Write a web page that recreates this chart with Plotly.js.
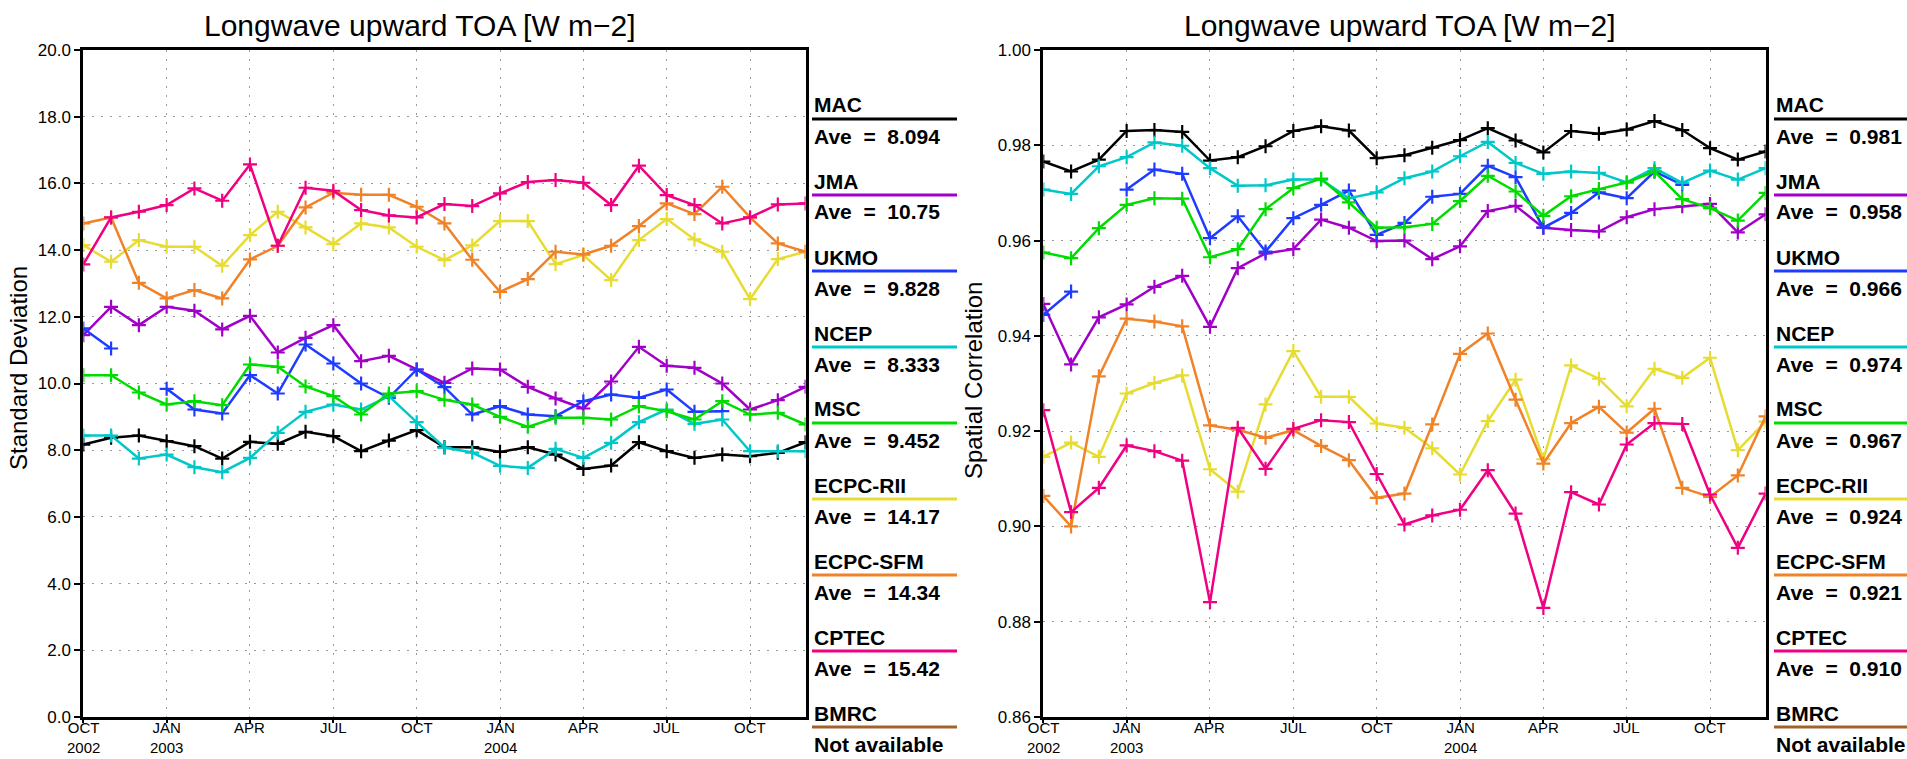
<!DOCTYPE html>
<html><head><meta charset="utf-8">
<script src="https://cdn.plot.ly/plotly-3.0.1.min.js"></script>
<style>html,body{margin:0;padding:0;background:#fff}#chart{width:1907px;height:759px}</style>
</head><body><div id="chart"></div><script>
const months = ['Oct 2002','Nov 2002','Dec 2002','Jan 2003','Feb 2003','Mar 2003','Apr 2003','May 2003','Jun 2003','Jul 2003','Aug 2003','Sep 2003','Oct 2003','Nov 2003','Dec 2003','Jan 2004','Feb 2004','Mar 2004','Apr 2004','May 2004','Jun 2004','Jul 2004','Aug 2004','Sep 2004','Oct 2004','Nov 2004','Dec 2004'];
const tickMonths = ['Oct 2002','Jan 2003','Apr 2003','Jul 2003','Oct 2003','Jan 2004','Apr 2004','Jul 2004','Oct 2004'];
const tickLabels = ['OCT<br>2002','JAN<br>2003','APR','JUL','OCT','JAN<br>2004','APR','JUL','OCT'];

const models = ['MAC','JMA','UKMO','NCEP','MSC','ECPC-RII','ECPC-SFM','CPTEC','BMRC'];
const colors = ['#000000','#a000c8','#1e3cff','#00c8c8','#00dc00','#e6dc32','#f08228','#f00082','#a0642a'];
const aveSD = ['8.094','10.75','9.828','8.333','9.452','14.17','14.34','15.42',null];
const aveCor = ['0.981','0.958','0.966','0.974','0.967','0.924','0.921','0.910',null];

// Standard deviation (left panel)
const MAC_sd   = [8.17,8.37,8.44,8.27,8.12,7.75,8.25,8.19,8.55,8.42,7.97,8.29,8.60,8.09,8.09,7.95,8.09,7.87,7.44,7.54,8.24,7.97,7.77,7.87,7.82,7.92,8.24];
const JMA_sd   = [11.45,12.3,11.75,12.3,12.18,11.62,12.03,10.93,11.37,11.75,10.67,10.83,10.42,10.02,10.45,10.42,9.9,9.55,9.25,10.06,11.1,10.53,10.47,10.0,9.22,9.5,9.9];
const UKMO_sd  = [11.65,11.05,null,9.84,9.22,9.1,10.25,9.7,11.17,10.6,10.0,9.57,10.42,9.89,9.07,9.32,9.07,9.02,9.47,9.67,9.57,9.82,9.15,9.17,null,null,null];
const NCEP_sd  = [8.44,8.44,7.75,7.87,7.49,7.34,7.77,8.52,9.15,9.37,9.22,9.62,8.84,8.08,7.93,7.53,7.47,8.04,7.77,8.22,8.84,9.22,8.79,8.92,7.97,7.97,7.97];
const MSC_sd   = [10.25,10.25,9.73,9.37,9.47,9.35,10.57,10.5,9.91,9.62,9.07,9.7,9.77,9.51,9.37,9.0,8.7,8.97,8.97,8.92,9.32,9.17,8.92,9.47,9.07,9.12,8.77];
const RII_sd   = [14.15,13.65,14.3,14.1,14.1,13.53,14.45,15.15,14.68,14.18,14.8,14.68,14.1,13.7,14.14,14.87,14.87,13.58,13.85,13.1,14.3,14.93,14.32,13.95,12.53,13.73,13.95];
const SFM_sd   = [14.8,14.98,13.02,12.55,12.8,12.55,13.72,14.13,15.28,15.72,15.66,15.66,15.3,14.8,13.71,12.75,13.13,13.95,13.87,14.13,14.72,15.4,15.08,15.9,14.98,14.2,13.95];
const CPTEC_sd = [13.57,14.98,15.15,15.35,15.85,15.48,16.57,14.13,15.87,15.78,15.2,15.04,14.98,15.38,15.32,15.7,16.04,16.1,16.02,15.35,16.53,15.65,15.35,14.8,14.98,15.37,15.4];

// Spatial correlation (right panel)
const MAC_cor   = [0.9766,0.9745,0.977,0.983,0.9832,0.9828,0.9768,0.9775,0.9798,0.983,0.984,0.9831,0.9773,0.9779,0.9795,0.9811,0.9836,0.981,0.9785,0.983,0.9824,0.9833,0.9851,0.9832,0.9794,0.977,0.9787];
const JMA_cor   = [0.9467,0.934,0.9439,0.9466,0.9503,0.9526,0.9419,0.9542,0.9573,0.9582,0.9644,0.9627,0.9599,0.96,0.9561,0.9588,0.9662,0.9673,0.9627,0.9622,0.9619,0.9649,0.9666,0.9672,0.9677,0.9617,0.9655];
const UKMO_cor  = [0.9444,0.9493,null,0.9707,0.9749,0.974,0.9605,0.9651,0.9577,0.9647,0.9675,0.9705,0.9612,0.9637,0.9692,0.9698,0.9757,0.9733,0.9627,0.9658,0.9701,0.9689,0.9745,0.9717,null,null,null];
const NCEP_cor  = [0.9707,0.9698,0.9756,0.9775,0.9806,0.9799,0.9752,0.9715,0.9716,0.9728,0.9728,0.9689,0.9701,0.9731,0.9745,0.9777,0.9807,0.9763,0.974,0.9745,0.9742,0.9722,0.9752,0.9721,0.9747,0.9728,0.9752];
const MSC_cor   = [0.9575,0.9563,0.9626,0.9675,0.9689,0.9688,0.9565,0.9582,0.9666,0.971,0.973,0.968,0.9627,0.9628,0.9635,0.9683,0.9736,0.9703,0.9652,0.9693,0.9708,0.9722,0.9745,0.9687,0.9668,0.9642,0.97];
const RII_cor   = [0.9146,0.9176,0.9146,0.9279,0.9301,0.9317,0.912,0.9073,0.9256,0.9368,0.9272,0.9272,0.9216,0.9207,0.9164,0.9109,0.9221,0.9308,0.9141,0.9338,0.931,0.9252,0.9331,0.9312,0.9354,0.916,0.922];
const SFM_cor   = [0.9064,0.90,0.9315,0.9436,0.943,0.942,0.9212,0.9203,0.9186,0.9202,0.9169,0.9139,0.906,0.9069,0.9214,0.9362,0.9405,0.9266,0.9132,0.9217,0.9251,0.9197,0.9247,0.9081,0.9062,0.9107,0.9231];
const CPTEC_cor = [0.9244,0.903,0.9081,0.917,0.9158,0.9138,0.8841,0.9207,0.9121,0.9205,0.9223,0.9219,0.911,0.9004,0.9023,0.9035,0.9118,0.9027,0.8829,0.9072,0.9046,0.9172,0.9217,0.9215,0.9067,0.8955,0.9069];

const sdSeries  = [MAC_sd,JMA_sd,UKMO_sd,NCEP_sd,MSC_sd,RII_sd,SFM_sd,CPTEC_sd];
const corSeries = [MAC_cor,JMA_cor,UKMO_cor,NCEP_cor,MSC_cor,RII_cor,SFM_cor,CPTEC_cor];

const W = 1907, H = 759;
const px = v => v / W;
const py = v => 1 - v / H;
const narrow = 'Liberation Sans Narrow, Liberation Sans, Arial, sans-serif';
const tickFont = {family: narrow, size:17, color:'#000'};
const labFont = {family:'Liberation Sans, Arial, sans-serif', size:21, color:'#000'};

function mkTraces(series, xa, ya) {
  return series.map((s, i) => ({
    type:'scatter', mode:'lines+markers', x: months, y: s, xaxis: xa, yaxis: ya,
    name: models[i], showlegend:false, connectgaps:false,
    line:{color: colors[i], width:2.5},
    marker:{symbol:'cross-thin', size:10, color: colors[i], line:{color: colors[i], width:2.2}},
    hoverinfo:'x+y+name'
  }));
}
const data = mkTraces(sdSeries,'x','y').concat(mkTraces(corSeries,'x2','y2'));

function xAxis(d0, d1, anchor) {
  return {
    domain:[px(d0), px(d1)], anchor: anchor, type:'category', range:[0, months.length-1],
    tickmode:'array', tickvals: tickMonths, showticklabels:false,
    showgrid:true, gridcolor:'#9a9a9a', griddash:'2px,7px', gridwidth:1,
    showline:true, linecolor:'#000', linewidth:3, mirror:true,
    ticks:'outside', ticklen:3, tickwidth:2, tickcolor:'#000', zeroline:false, fixedrange:true
  };
}
function yAxis(r, dt, fmt, anchor) {
  return {
    domain:[1 - 717/H, 1 - 50/H], anchor: anchor, range: r, dtick: dt, tick0: r[0], tickformat: fmt,
    tickfont: tickFont,
    showgrid:true, gridcolor:'#9a9a9a', griddash:'2px,7px', gridwidth:1,
    showline:true, linecolor:'#000', linewidth:3, mirror:true,
    ticks:'outside', ticklen:6, tickwidth:2, tickcolor:'#000', zeroline:false, fixedrange:true
  };
}

const annotations = [];
const shapes = [];
const titleText = 'Longwave upward TOA [W m\u22122]';
annotations.push({text:titleText, xref:'paper', yref:'paper', x:px(420), y:py(26), xanchor:'center', yanchor:'middle', showarrow:false,
  font:{family:'Liberation Sans, Arial, sans-serif', size:30, color:'#000'}});
annotations.push({text:titleText, xref:'paper', yref:'paper', x:px(1400), y:py(26), xanchor:'center', yanchor:'middle', showarrow:false,
  font:{family:'Liberation Sans, Arial, sans-serif', size:30, color:'#000'}});
annotations.push({text:'Standard Deviation', xref:'paper', yref:'paper', x:px(18), y:py(368), xanchor:'center', yanchor:'middle', textangle:-90, showarrow:false,
  font:{family:'Liberation Sans, Arial, sans-serif', size:24, color:'#000'}});
annotations.push({text:'Spatial Correlation', xref:'paper', yref:'paper', x:px(973), y:py(380), xanchor:'center', yanchor:'middle', textangle:-90, showarrow:false,
  font:{family:'Liberation Sans, Arial, sans-serif', size:24, color:'#000'}});

// x tick labels (month over year), placed on the category axes
['x','x2'].forEach(xr => {
  tickMonths.forEach((m, k) => {
    annotations.push({text: tickLabels[k], xref: xr, yref:'paper', x: m, y: py(718), xanchor:'center', yanchor:'top', showarrow:false,
      borderpad:0, font:{family: narrow, size:15, color:'#000'}});
  });
});

function legend(x0, x1, aves) {
  models.forEach((m, k) => {
    const ly = 119 + 76 * k;
    shapes.push({type:'line', xref:'paper', yref:'paper', x0:px(x0), x1:px(x1), y0:py(ly), y1:py(ly), line:{color: colors[k], width:3}});
    annotations.push({text:'<b>' + m + '</b>', xref:'paper', yref:'paper', x:px(x0), y:py(ly - 14), xanchor:'left', yanchor:'middle', showarrow:false, font: labFont});
    const t = aves[k] === null ? 'Not available' : 'Ave  =  ' + aves[k];
    annotations.push({text:'<b>' + t + '</b>', xref:'paper', yref:'paper', x:px(x0), y:py(ly + 17), xanchor:'left', yanchor:'middle', showarrow:false, font: labFont});
  });
}
legend(812, 957, aveSD);
legend(1774, 1907, aveCor);

const layout = {
  width: W, height: H, margin:{l:0,r:0,t:0,b:0}, paper_bgcolor:'#fff', plot_bgcolor:'#fff',
  showlegend:false,
  xaxis: xAxis(83.3, 805.6, 'y'),
  yaxis: yAxis([0,20], 2, '.1f', 'x'),
  xaxis2: xAxis(1043.3, 1765.6, 'y2'),
  yaxis2: yAxis([0.86,1.0], 0.02, '.2f', 'x2'),
  annotations: annotations, shapes: shapes
};
Plotly.newPlot('chart', data, layout, {displayModeBar:false, staticPlot:true});
</script></body></html>
